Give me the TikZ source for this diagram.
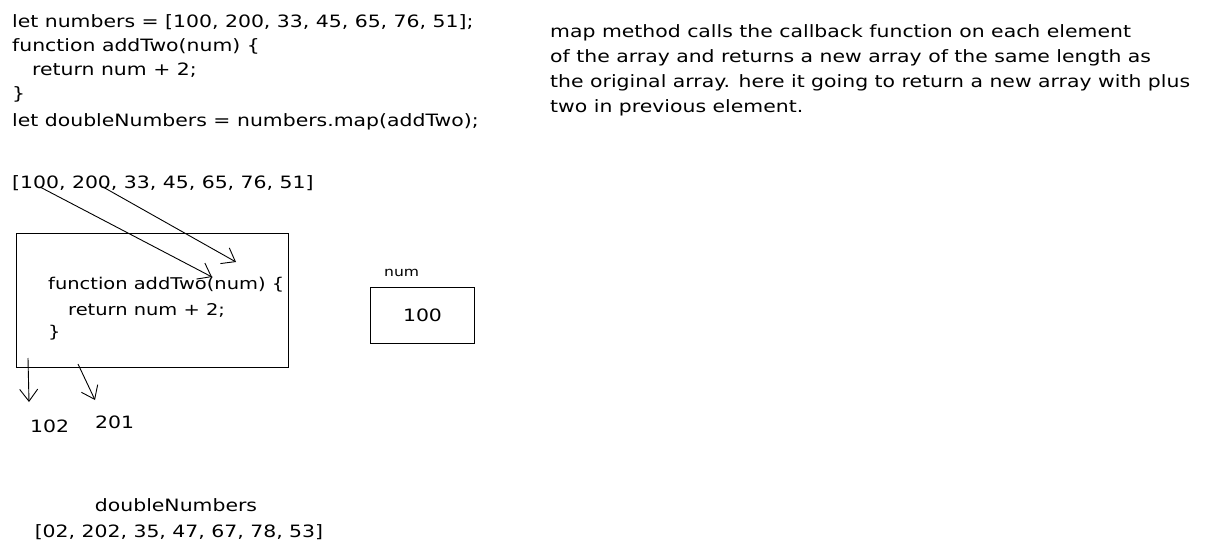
\documentclass[tikz,border=0pt]{standalone}
\usepackage{fontspec}
\setmainfont[FakeStretch=1.2]{DejaVu Sans}
\usetikzlibrary{arrows.meta}
\begin{document}
\begin{tikzpicture}[x=1pt,y=-1pt,
  txt/.style={font=\fontsize{17}{24}\selectfont, inner sep=0pt, anchor=west},
  intxt/.style={txt, font=\fontsize{16.2}{24}\selectfont},
  sk/.style={draw=black, line width=1pt},
  arr/.style={draw=black, line width=0.9pt, -{Straight Barb[length=12pt,width=18pt]}}]
\useasboundingbox (0,0) rectangle (1205,556);
% code
\node[txt] (l1) at (12,22) {let numbers = [100, 200, 33, 45, 65, 76, 51];};
\node[txt] (l2) at (12,46) {function addTwo(num) \{};
\node[txt] (l3) at (32,70) {return num + 2;};
\node[txt] (l4) at (12,94) {\}};
\node[txt] (l5) at (12,122) {let doubleNumbers = numbers.map(addTwo);};
% explanation
\node[txt, align=left, anchor=north west, font=\fontsize{17}{25}\selectfont] (expl) at (550,24)
  {map method calls the callback function on each element\\
   of the array and returns a new array of the same length as\\
   the original array. here it going to return a new array with plus\\
   two in previous element.};
% array
\node[txt] (arr) at (12,183) {[100, 200, 33, 45, 65, 76, 51]};
% function box
\node[sk, minimum width=272pt, minimum height=134pt, anchor=north west] (fbox) at (16,233) {};
\node[intxt] (f1) at (48,285) {function addTwo(num) \{};
\node[intxt] (f2) at (68,310) {return num + 2;};
\node[intxt] (f3) at (48,333) {\}};
% num box
\node[txt, font=\fontsize{13}{16}\selectfont] (numlbl) at (384,273) {num};
\node[sk, minimum width=104pt, minimum height=56pt, anchor=north west] (nbox) at (370,287) {};
\node[txt, anchor=center] (nval) at (nbox.center) {100};
% arrows from array to function
\coordinate (s1) at (40,187);
\coordinate (e1) at (212,277);
\coordinate (s2) at (103,187);
\coordinate (e2) at (236,262);
\draw[arr] (s1) -- (e1);
\draw[arr] (s2) -- (e2);
% output arrows
\coordinate (s3) at (28,358);
\coordinate (e3) at (29,402);
\coordinate (s4) at (78,364);
\coordinate (e4) at (95,400);
\draw[arr] (s3) -- (e3);
\draw[arr] (s4) -- (e4);
\node[txt] (r1) at (30,426) {102};
\node[txt] (r2) at (95,422) {201};
% result
\node[txt, anchor=center] (dlbl) at (176,505) {doubleNumbers};
\node[txt, anchor=center] (dres) at (179,532) {[02, 202, 35, 47, 67, 78, 53]};
\end{tikzpicture}
\end{document}
